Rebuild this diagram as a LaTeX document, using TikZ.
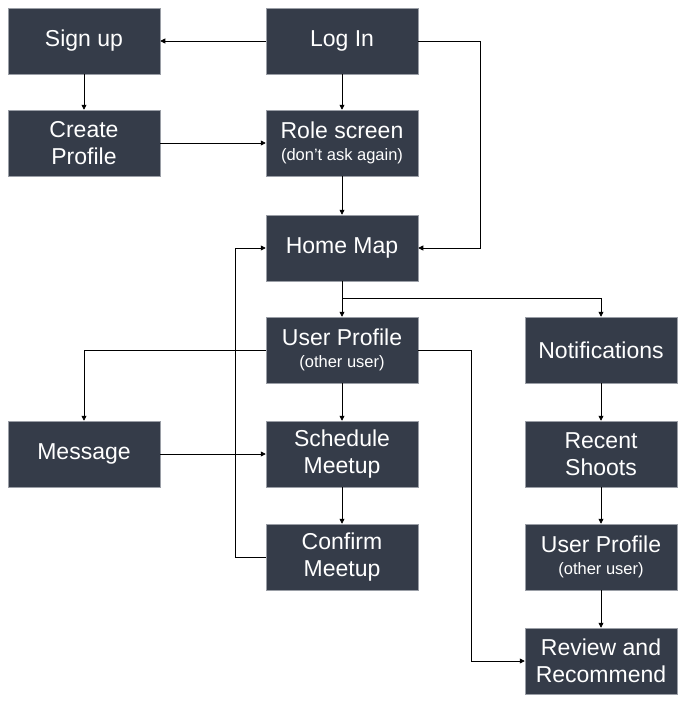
\documentclass[tikz,border=0pt]{standalone}
\usepackage{fontspec}
\setmainfont{Liberation Sans}
\usetikzlibrary{arrows.meta}
\definecolor{boxfill}{HTML}{353C49}
\definecolor{boxedge}{HTML}{9A9EA6}
\tikzset{
  screen/.style={draw=boxedge, fill=boxfill, line width=0.5pt, minimum width=152pt, minimum height=66pt,
    inner sep=0pt, text=white, align=center, font=\fontsize{23}{27}\selectfont},
  flow/.style={draw=black, line width=0.8pt, -{Triangle[length=5pt,width=5pt]}},
  link/.style={draw=black, line width=0.8pt},
}
\newcommand{\subline}[1]{{\fontsize{16.5}{18}\selectfont #1}}

\begin{document}
\begin{tikzpicture}[x=1pt,y=-1pt]
  \useasboundingbox (0,0) rectangle (686,701);
  % screens
  \node[screen] (signup)  at (84,41)   {Sign up};
  \node[screen] (login)   at (342,41)  {Log In};
  \node[screen] (create)  at (84,143)  {Create\\Profile};
  \node[screen] (role)    at (342,143) {Role screen\\[-5pt]\subline{(don’t ask again)}};
  \node[screen] (home)    at (342,248) {Home Map};
  \node[screen] (uprof)   at (342,350) {User Profile\\[-5pt]\subline{(other user)}};
  \node[screen] (notif)   at (601,350) {Notifications};
  \node[screen] (msg)     at (84,454)  {Message};
  \node[screen] (sched)   at (342,454) {Schedule\\Meetup};
  \node[screen] (recent)  at (601,454) {Recent\\Shoots};
  \node[screen] (confirm) at (342,557) {Confirm\\Meetup};
  \node[screen] (uprofb)  at (601,557) {User Profile\\[-5pt]\subline{(other user)}};
  \node[screen] (review)  at (601,661) {Review and\\Recommend};

  % bends
  \coordinate (loginbend) at (480,41);
  \coordinate (split)     at (342,298);
  \coordinate (rvbend)    at (471,350);
  \coordinate (backbend)  at (235,557);

  % connectors
  \draw[flow] (login) -- (signup);
  \draw[flow] (signup) -- (create);
  \draw[flow] (login) -- (role);
  \draw[flow] (create) -- (role);
  \draw[flow] (role) -- (home);
  \draw[flow] (login.east) -- (loginbend) |- (home.east);
  \draw[link] (home.south) -- (split);
  \draw[flow] (split) -- (uprof.north);
  \draw[flow] (split) -| (notif.north);
  \draw[flow] (uprof.west) -| (msg.north);
  \draw[flow] (uprof.east) -- (rvbend) |- (review.west);
  \draw[flow] (uprof) -- (sched);
  \draw[flow] (msg) -- (sched);
  \draw[flow] (sched) -- (confirm);
  \draw[flow] (confirm.west) -- (backbend) |- (home.west);
  \draw[flow] (notif) -- (recent);
  \draw[flow] (recent) -- (uprofb);
  \draw[flow] (uprofb) -- (review);
\end{tikzpicture}
\end{document}
